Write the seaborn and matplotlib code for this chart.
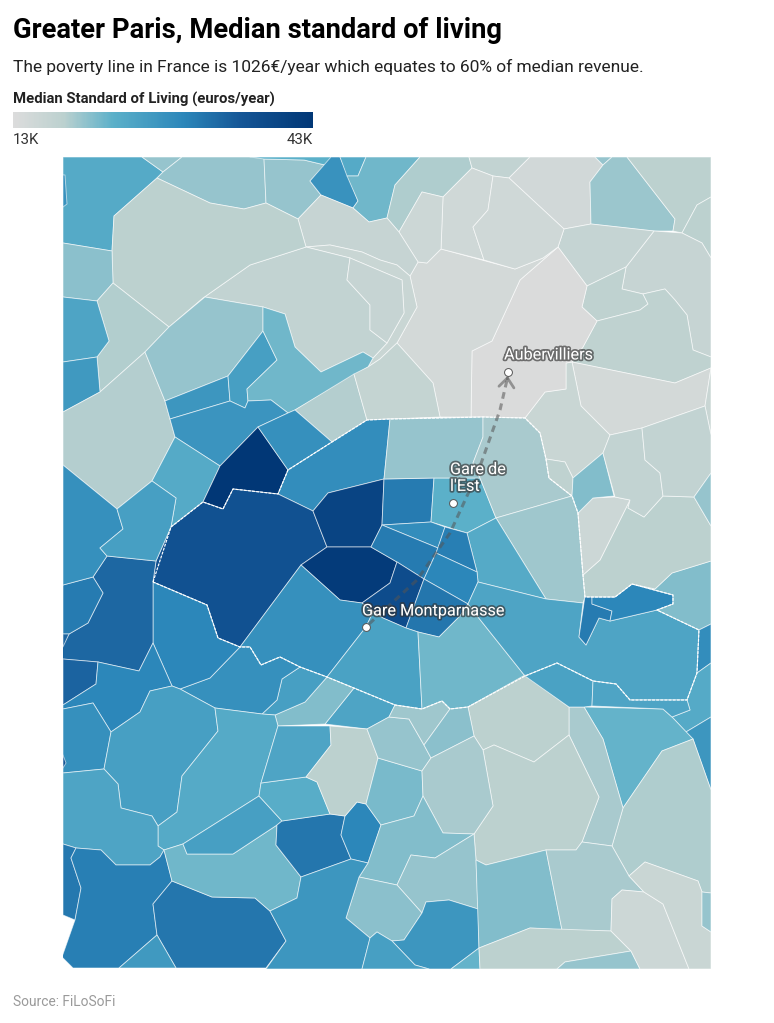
import numpy as np
import matplotlib
matplotlib.use("Agg")
import matplotlib.pyplot as plt
import matplotlib.patheffects as pe
from matplotlib.collections import PolyCollection
from matplotlib.colors import Normalize, LinearSegmentedColormap
from matplotlib.cm import ScalarMappable
import seaborn as sns

TITLE = "Greater Paris, Median standard of living"
SUBTITLE = "The poverty line in France is 1026€/year which equates to 60% of median revenue."
LEGEND_TITLE = "Median Standard of Living (euros/year)"
SOURCE = "Source: FiLoSoFi"
VALUE_MIN, VALUE_MAX = 13, 43
LEGEND_LABELS = ["13K", "43K"]

# Commune outlines in map coordinates, each paired by index with COMMUNE_VALUES
COMMUNE_OUTLINES = [
 [(63,157),(142,157),(163,172),(157,178),(114,216),(112,251),(63,243)],
 [(63,175),(65,175),(67,204),(63,207)],
 [(142,157),(182,157),(163,172)],
 [(182,157),(264,157),(266,203),(244,209),(210,203),(157,178),(163,172)],
 [(264,159),(304,160),(325,165),(310,181),(321,195),(298,219),(266,203)],
 [(250,157),(335,157),(325,165),(304,160),(264,159)],
 [(331,157),(340,157),(358,201),(353,208),(321,195),(310,181)],
 [(340,157),(366,157),(358,176),(347,176)],
 [(366,157),(420,157),(395,185),(387,218),(369,222),(353,208),(358,201),(347,176),(358,176)],
 [(420,157),(469,157),(472,168),(443,197),(422,192),(399,232),(387,218),(395,185)],
 [(469,157),(530,157),(509,178),(493,176),(472,168)],
 [(530,157),(595,157),(603,165),(590,182),(591,224),(564,229),(509,178)],
 [(595,157),(612,157),(603,165)],
 [(612,157),(627,157),(675,219),(673,231),(654,231),(591,224),(590,182),(603,165)],
 [(627,157),(711,157),(711,197),(697,205),(682,233),(673,231),(675,219)],
 [(711,197),(711,258),(702,243),(682,233),(697,205)],
 [(654,231),(682,233),(702,243),(711,258),(711,357),(693,350),(687,315),(675,300),(665,289),(643,294),(622,289),(626,267)],
 [(591,224),(654,231),(626,267),(587,286),(558,247),(564,229)],
 [(587,286),(626,267),(622,289),(643,294),(648,304),(640,310),(597,321),(582,307)],
 [(643,294),(665,289),(675,300),(687,315),(693,350),(711,357),(711,368),(675,383),(572,362),(583,347),(597,321),(640,310),(648,304)],
 [(572,362),(675,383),(711,368),(705,406),(642,428),(610,435),(581,406)],
 [(711,368),(705,406),(711,435)],
 [(525,418),(545,392),(566,389),(566,363),(572,362),(581,406),(610,435),(603,453),(573,478),(565,462),(546,459),(540,433)],
 [(472,351),(492,341),(520,280),(558,247),(587,286),(582,307),(597,321),(583,347),(572,362),(566,363),(566,389),(545,392),(525,418),(471,417)],
 [(410,276),(418,262),(427,263),(441,249),(515,269),(543,258),(558,247),(520,280),(492,341),(472,351),(471,417),(440,417),(433,383),(397,343),(417,307)],
 [(443,197),(472,168),(493,176),(488,210),(473,227),(484,260),(441,249)],
 [(493,176),(509,178),(564,229),(558,247),(543,258),(515,269),(484,260),(473,227),(488,210)],
 [(422,192),(443,197),(441,249),(427,263),(418,262),(399,232)],
 [(298,219),(321,195),(353,208),(369,222),(387,218),(399,232),(418,262),(410,276),(397,265),(380,260),(362,252),(330,245),(306,247)],
 [(306,247),(330,245),(362,252),(380,260),(397,265),(410,276),(417,307),(397,343),(380,359),(368,367),(373,358),(387,343),(404,313),(402,280),(350,258)],
 [(306,247),(250,265),(203,298),(205,297),(263,307),(285,314),(295,347),(321,372),(363,352),(373,358),(387,343),(370,330),(370,305),(347,280),(350,258)],
 [(350,258),(402,280),(404,313),(387,343),(370,330),(370,305),(347,280)],
 [(157,178),(210,203),(244,209),(266,203),(298,219),(306,247),(250,265),(203,298),(169,327),(122,290),(113,283),(112,251),(114,216)],
 [(63,243),(112,251),(113,283),(97,301),(63,297)],
 [(113,283),(122,290),(169,327),(145,352),(100,392),(97,357),(109,341),(97,301)],
 [(63,297),(97,301),(109,341),(97,357),(63,362)],
 [(63,362),(97,357),(100,392),(63,412)],
 [(63,412),(100,392),(145,352),(165,401),(175,437),(152,481),(117,509),(63,465)],
 [(205,297),(263,307),(263,331),(228,376),(165,401),(145,352),(169,327)],
 [(165,401),(228,376),(230,401),(170,419)],
 [(263,331),(277,360),(247,389),(248,401),(245,408),(230,401),(228,376)],
 [(263,307),(285,314),(295,347),(321,372),(363,352),(373,358),(368,367),(295,410),(288,413),(271,400),(248,401),(247,389),(277,360),(263,331)],
 [(295,410),(354,374),(367,420),(332,442)],
 [(354,374),(368,367),(380,359),(397,343),(433,383),(440,417),(390,419),(367,420)],
 [(170,419),(230,401),(245,408),(248,401),(271,400),(288,413),(258,427),(220,466),(175,437)],
 [(175,437),(220,466),(203,502),(171,527),(176,498),(152,481)],
 [(258,427),(288,470),(278,494),(233,489),(223,509),(203,502),(220,466)],
 [(258,427),(288,413),(295,410),(332,442),(288,470)],
 [(288,470),(332,442),(367,420),(390,419),(384,479),(328,493),(313,511),(278,494)],
 [(233,489),(278,494),(313,511),(327,547),(301,565),(240,647),(218,638),(207,605),(153,582),(156,561),(171,527),(203,502),(223,509)],
 [(313,511),(328,493),(384,479),(382,525),(371,547),(327,547)],
 [(327,547),(371,547),(397,562),(390,583),(362,603),(340,600),(301,565)],
 [(384,479),(434,478),(431,522),(382,525)],
 [(434,478),(480,478),(496,518),(467,533),(431,522)],
 [(390,419),(483,417),(483,437),(473,463),(480,478),(434,478),(384,479)],
 [(483,417),(525,418),(540,433),(546,459),(549,478),(572,496),(496,518),(480,478),(473,463),(483,437)],
 [(546,459),(565,462),(573,478),(572,496),(549,478)],
 [(496,518),(572,496),(578,513),(583,575),(585,597),(583,603),(546,599)],
 [(467,533),(496,518),(546,599),(478,582),(477,572)],
 [(382,525),(431,522),(445,527),(438,548)],
 [(371,547),(382,525),(438,548),(436,553),(424,579),(397,562)],
 [(445,527),(467,533),(477,572),(436,553)],
 [(436,553),(477,572),(478,582),(468,604),(424,579)],
 [(397,562),(424,579),(406,628),(383,618),(362,603),(390,583)],
 [(424,579),(468,604),(460,616),(439,637),(418,632),(406,628)],
 [(301,565),(340,600),(362,603),(373,612),(366,627),(327,677),(300,667),(280,657),(261,665),(250,647),(240,647)],
 [(366,627),(373,612),(383,618),(406,628),(418,632),(422,709),(395,705),(327,677)],
 [(418,632),(439,637),(460,616),(468,604),(478,617),(525,676),(468,707),(450,709),(442,701),(422,709)],
 [(478,582),(546,599),(583,603),(579,637),(586,645),(599,618),(610,621),(657,610),(699,630),(697,673),(687,700),(630,700),(616,684),(593,681),(557,663),(525,676),(478,617),(468,604)],
 [(585,596),(592,597),(592,604),(612,611),(610,621),(599,618),(586,645),(579,637)],
 [(592,597),(615,597),(632,584),(673,595),(673,604),(657,610),(610,621),(612,611),(592,604)],
 [(632,584),(655,589),(672,573),(711,561),(711,624),(699,630),(657,610),(673,604),(673,595)],
 [(585,597),(583,575),(600,560),(630,500),(628,508),(644,517),(663,496),(694,497),(711,526),(711,561),(672,573),(655,589),(632,584),(615,597)],
 [(578,513),(593,498),(615,497),(630,500),(600,560),(583,575)],
 [(573,478),(603,453),(614,496),(593,498),(578,513),(572,496)],
 [(610,435),(642,428),(645,460),(660,473),(663,496),(644,517),(628,508),(630,500),(615,497),(603,453)],
 [(642,428),(705,406),(711,435),(711,473),(694,497),(663,496),(660,473),(645,460)],
 [(711,473),(694,497),(711,526)],
 [(699,630),(711,624),(711,663),(697,673)],
 [(697,673),(711,663),(711,717),(686,732),(672,717),(690,710),(687,700)],
 [(711,717),(686,732),(693,739),(711,790)],
 [(584,707),(663,709),(672,717),(693,739),(662,751),(623,808),(603,739)],
 [(693,739),(711,790),(711,893),(702,892),(698,881),(645,862),(629,876),(612,846),(623,808),(662,751)],
 [(569,707),(584,707),(603,739),(623,808),(612,846),(582,842),(599,797),(569,735)],
 [(468,707),(525,675),(569,707),(569,735),(534,762),(494,745),(483,750),(474,736)],
 [(483,750),(494,745),(534,762),(569,735),(599,797),(582,842),(576,850),(546,850),(486,865),(476,860),(474,834),(493,806)],
 [(525,676),(557,663),(593,681),(592,706),(584,707),(569,707)],
 [(593,681),(616,684),(630,700),(687,700),(690,710),(672,717),(663,709),(592,706)],
 [(354,688),(395,705),(389,717),(367,729),(325,724)],
 [(327,677),(354,688),(325,724),(278,726),(275,715),(305,702)],
 [(300,667),(327,677),(305,702),(275,715),(262,714),(277,700),(282,679)],
 [(240,647),(250,647),(261,665),(280,657),(300,667),(282,679),(277,700),(262,714),(215,708),(180,689),(210,678)],
 [(153,582),(207,605),(218,638),(240,647),(210,678),(180,689),(172,686),(153,643)],
 [(93,577),(107,556),(156,561),(153,582),(153,643),(139,671),(98,662),(62,659),(62,647),(69,634),(88,623),(103,593)],
 [(63,585),(93,577),(103,593),(88,623),(69,634),(63,634)],
 [(63,465),(117,509),(123,529),(100,548),(107,556),(93,577),(63,585)],
 [(117,509),(152,481),(176,498),(171,527),(156,561),(107,556),(100,548),(123,529)],
 [(63,634),(69,634),(63,647)],
 [(63,659),(98,662),(96,684),(63,705)],
 [(98,662),(139,671),(153,643),(172,686),(150,691),(140,712),(111,732),(93,703),(63,709),(63,705),(96,684)],
 [(63,709),(93,703),(111,732),(104,769),(63,773)],
 [(63,755),(66,763),(63,768)],
 [(150,691),(172,686),(180,689),(215,708),(218,731),(182,776),(177,812),(158,826),(152,816),(121,808),(118,784),(104,769),(111,732),(140,712)],
 [(215,708),(262,714),(275,715),(278,726),(261,783),(259,796),(183,844),(164,850),(158,846),(158,826),(177,812),(182,776),(218,731)],
 [(63,773),(104,769),(118,784),(121,808),(152,816),(158,826),(158,846),(164,850),(160,857),(150,865),(116,865),(101,850),(76,848),(63,844)],
 [(63,844),(76,848),(71,858),(81,888),(75,920),(63,915)],
 [(76,848),(101,850),(116,865),(150,865),(160,857),(164,850),(172,881),(153,904),(157,935),(119,968),(73,968),(62,957),(75,920),(81,888),(71,858)],
 [(172,881),(212,897),(255,898),(270,911),(286,941),(266,968),(176,968),(157,935),(153,904)],
 [(157,935),(176,968),(119,968)],
 [(164,850),(183,844),(187,854),(233,854),(277,825),(276,845),(301,877),(297,898),(270,911),(255,898),(212,897),(172,881)],
 [(183,844),(259,796),(282,821),(277,825),(233,854),(187,854)],
 [(277,825),(282,821),(330,814),(345,816),(341,835),(351,859),(301,877),(276,845)],
 [(345,816),(357,802),(366,804),(381,825),(368,863),(351,859),(341,835)],
 [(261,783),(306,777),(317,782),(330,814),(282,821),(259,796)],
 [(278,726),(330,726),(331,745),(306,777),(261,783)],
 [(330,726),(367,729),(378,758),(366,804),(357,802),(345,816),(330,814),(317,782),(306,777),(331,745)],
 [(378,758),(422,771),(423,796),(414,816),(381,825),(366,804)],
 [(367,729),(389,717),(409,719),(424,745),(431,758),(422,771),(378,758)],
 [(395,705),(422,709),(442,701),(450,709),(424,745),(409,719),(389,717)],
 [(450,709),(468,707),(474,736),(431,758),(424,745)],
 [(431,758),(474,736),(483,750),(493,806),(474,834),(443,833),(423,796),(422,771)],
 [(423,796),(443,833),(474,834),(435,858),(411,855),(397,885),(359,877),(368,863),(381,825),(414,816)],
 [(411,855),(435,858),(474,834),(476,860),(478,909),(449,900),(426,902),(422,913),(397,885)],
 [(359,877),(397,885),(422,913),(404,940),(392,941),(377,932),(370,938),(346,918)],
 [(301,877),(351,859),(368,863),(359,877),(346,918),(370,938),(362,969),(266,969),(286,941),(270,911),(297,898)],
 [(426,902),(449,900),(478,909),(479,948),(451,969),(429,969),(415,965),(392,941),(404,940),(422,913)],
 [(370,938),(377,932),(392,941),(415,965),(429,969),(362,969)],
 [(479,948),(480,969),(451,969)],
 [(476,860),(486,865),(546,850),(562,930),(530,928),(479,948)],
 [(546,850),(576,850),(582,842),(612,846),(629,876),(644,892),(622,890),(612,899),(611,931),(562,930)],
 [(479,948),(530,928),(611,931),(631,951),(565,962),(557,969),(480,969)],
 [(565,962),(631,951),(640,969),(557,969)],
 [(612,899),(622,890),(644,892),(663,904),(689,969),(640,969),(631,951),(611,931)],
 [(629,876),(645,862),(698,881),(702,892),(702,926),(711,932),(711,969),(689,969),(663,904),(644,892)],
 [(702,892),(711,893),(711,932),(702,926)],
]

COMMUNE_VALUES = [
 24,28,20,20,20,23,28,24,22,18.7,17,14.7,20,19.7,18,18,16.5,16.7,17.5,17.5,
 14.5,16,16,13.3,14.5,15,15,15.5,16.5,16,17,16.5,18,20.5,18.6,25,27,18.4,20,27.5,
 26,22,18.4,16.8,27.7,24,43,28.5,29,37,40,42,31.5,23,20,19,17.6,19.5,24,29,
 31.5,31,30,38,32,28.5,25.5,22,25,31.5,30,21,18,15.5,21,17,17,20,29,24,
 27.5,22.5,18.7,19,18,18,25.5,25,25,21,26,28.5,30,33.8,31.5,28.5,26,34,34.3,30,
 28.5,36,26,24,25,31.8,31,32,27,22,26,32,30,23.5,25,18,21.5,20,19.5,20.5,
 19,21,20,20.5,27.5,27.5,26,22.5,21,19,18,20,15.5,16,20,
]

PARIS_BOUNDARY = [
 (153,582),(171,527),(203,502),(223,509),(233,489),(278,494),(288,470),(332,442),(367,420),
 (390,419),(483,417),(525,418),(540,433),(546,459),(549,478),(572,496),(578,513),(583,575),
 (585,597),(615,597),(632,584),(673,595),(673,604),(657,610),(699,630),(697,673),(687,700),
 (630,700),(616,684),(593,681),(557,663),(525,676),(468,707),(450,709),(442,701),(422,709),
 (395,705),(327,677),(300,667),(280,657),(261,665),(250,647),(240,647),(218,638),(207,605),(153,582),
]

STATION_NAMES = ["Aubervilliers", "Gare de\nl'Est", "Gare Montparnasse"]
STATION_X = [508, 453, 366]
STATION_Y = [372, 503, 627]
LABEL_X = [504, 450, 362]
LABEL_Y = [355, 478, 611]
ROUTE_X = [369, 417, 450, 478, 500, 507]
ROUTE_Y = [624, 580, 533, 472, 410, 380]

sns.set_theme(style="white")
plt.rcParams["font.family"] = ["Roboto", "DejaVu Sans"]

cmap = LinearSegmentedColormap.from_list("gbu", [
    (0.0, "#dcdcdc"), (5/30, "#bcd1cf"), (10/30, "#5bb0c9"),
    (17/30, "#2c87ba"), (23/30, "#145595"), (1.0, "#013776")])
norm = Normalize(VALUE_MIN, VALUE_MAX)

W, H = 774, 1023
fig = plt.figure(figsize=(W/100, H/100), dpi=100, facecolor="white")

fig.text(13/W, 1-30/H, TITLE, fontsize=19.7, fontweight="bold", color="black", va="center")
fig.text(13/W, 1-66.5/H, SUBTITLE, fontsize=12.5, color="#222222", va="center")
fig.text(13/W, 1-99.5/H, LEGEND_TITLE, fontsize=10.75, fontweight="bold", color="#222222", va="center")
fig.text(13/W, 1-140/H, LEGEND_LABELS[0], fontsize=10.8, color="#333333", va="center")
fig.text(313/W, 1-140/H, LEGEND_LABELS[1], fontsize=10.8, color="#333333", va="center", ha="right")
fig.text(13/W, 1-1002/H, SOURCE, fontsize=9.9, color="#9a9a9a", va="center")

cax = fig.add_axes([13/W, 1-128/H, 300/W, 16/H])
cb = fig.colorbar(ScalarMappable(norm=norm, cmap=cmap), cax=cax, orientation="horizontal")
cb.set_ticks([])
cb.outline.set_visible(False)

x0, x1, y0, y1 = 63, 712, 157, 969
ax = fig.add_axes([x0/W, 1-y1/H, (x1-x0)/W, (y1-y0)/H])
ax.set_xlim(x0, x1)
ax.set_ylim(y1, y0)
ax.axis("off")

pc = PolyCollection(COMMUNE_OUTLINES, array=np.array(COMMUNE_VALUES, float), cmap=cmap, norm=norm,
                    edgecolors=(1, 1, 1, 0.6), linewidths=0.65, zorder=1)
ax.add_collection(pc)

bx, by = zip(*PARIS_BOUNDARY)
ax.plot(bx, by, color="white", lw=0.85, ls=(0, (2.5, 1)), zorder=2)

# Route between the stations
ax.plot(ROUTE_X, ROUTE_Y, color="#555555", alpha=0.55, lw=2.2, ls=(0, (2.2, 1.6)), zorder=3)
ax.annotate("", xy=(STATION_X[0], STATION_Y[0]+1), xytext=(STATION_X[0]-1, STATION_Y[0]+10),
            arrowprops=dict(arrowstyle="->,head_length=0.55,head_width=0.45", color="#555555", alpha=0.55, lw=2), zorder=3)

sns.scatterplot(x=STATION_X, y=STATION_Y, ax=ax, s=32, color="white", edgecolor="#555555",
                linewidth=0.7, zorder=4, legend=False)
ax.set_xlim(x0, x1)
ax.set_ylim(y1, y0)
ax.set_xlabel(""); ax.set_ylabel("")

for name, lx, ly in zip(STATION_NAMES, LABEL_X, LABEL_Y):
    ax.text(lx, ly, name, fontsize=11.7, color="white", va="center", ha="left", zorder=5,
            linespacing=1.15, path_effects=[pe.withStroke(linewidth=2.5, foreground=(0.2, 0.2, 0.2, 0.65))])

fig.savefig("out.png", dpi=100, facecolor="white")
assert len(COMMUNE_OUTLINES) == len(COMMUNE_VALUES), (len(COMMUNE_OUTLINES), len(COMMUNE_VALUES))
